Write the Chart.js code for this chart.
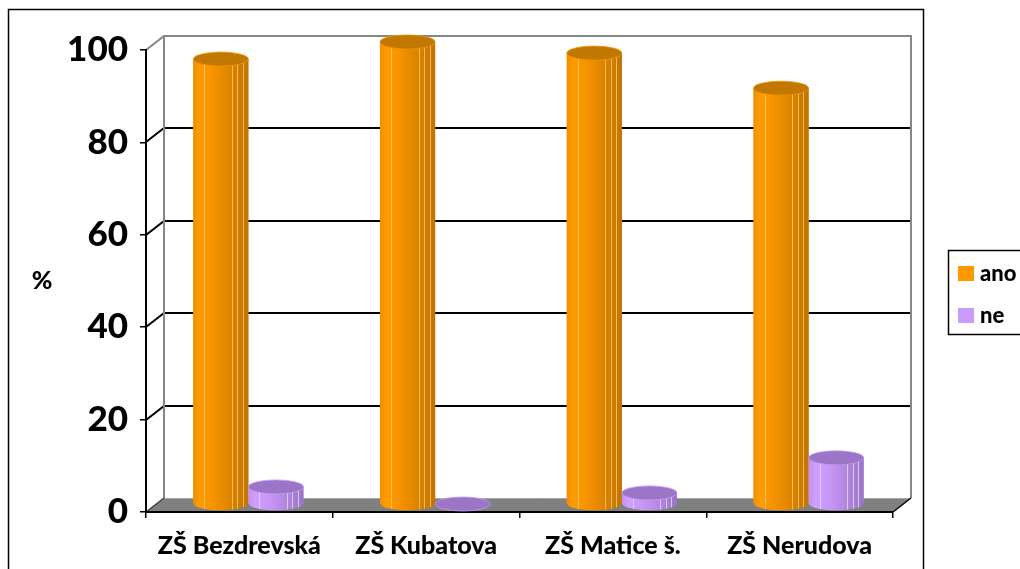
<!DOCTYPE html>
<html>
<head>
<meta charset="utf-8">
<script src="https://cdn.jsdelivr.net/npm/chart.js@4"></script>
<style>
  body { margin: 0; background: #fff; }
  canvas { display: block; }
</style>
</head>
<body>
<canvas id="chart" width="1020" height="569"></canvas>
<script>
// data
let categories = ["ZŠ Bezdrevská", "ZŠ Kubatova", "ZŠ Matice š.", "ZŠ Nerudova"];
let anoValues = [96.3, 100, 97.6, 90];
let neValues = [3.7, 0, 2.4, 10];
let seriesNames = ["ano", "ne"];
let yMin = 0, yMax = 100, yStep = 20;

// 3d look: back wall offset and bar depth offset
let wallDX = 18, wallDY = -14;
let barDX = 9, barDY = -8;
let capRy = 7;

let looks = {
  ano: {
    solid: "#ff9900",
    top: "#c07800",
    stops: [[0, "#f08e00"], [0.12, "#ff9c00"], [0.35, "#f69300"], [0.55, "#e68a00"], [0.72, "#d98200"], [0.88, "#cb7a00"], [1, "#c07300"]],
    hi: "rgba(255,200,110,0.8)"
  },
  ne: {
    solid: "#cc99ff",
    top: "#9b76c6",
    stops: [[0, "#c192f0"], [0.12, "#cf9fff"], [0.35, "#c898f8"], [0.55, "#bc8eea"], [0.72, "#b085dc"], [0.88, "#a47bcf"], [1, "#9b74c4"]],
    hi: "rgba(235,215,255,0.8)"
  }
};

function drawCylinder(ctx, el, look) {
  let x = el.x, y = el.y, base = el.base, w = el.width;
  let l = x - w / 2, r = x + w / 2, rx = w / 2;
  let grad = ctx.createLinearGradient(l, 0, r, 0);
  look.stops.forEach(s => grad.addColorStop(s[0], s[1]));

  if (base - y > 0.5) {
    ctx.fillStyle = grad;
    ctx.beginPath();
    ctx.moveTo(l, y);
    ctx.lineTo(l, base);
    ctx.ellipse(x, base, rx, capRy, 0, Math.PI, 0, true);
    ctx.lineTo(r, y);
    ctx.closePath();
    ctx.fill();

    // thin light facet lines
    ctx.strokeStyle = look.hi;
    ctx.lineWidth = 1;
    [0.2, 0.7, 0.8, 0.9].forEach(f => {
      let fx = Math.round(l + w * f) + 0.5;
      ctx.beginPath();
      ctx.moveTo(fx, y);
      ctx.lineTo(fx, base + capRy * Math.sqrt(1 - Math.pow((fx - x) / rx, 2)));
      ctx.stroke();
    });
  }

  ctx.fillStyle = look.top;
  ctx.beginPath();
  ctx.ellipse(x, y, rx, capRy, 0, 0, Math.PI * 2);
  ctx.fill();
  ctx.strokeStyle = look.stops[2][1];
  ctx.lineWidth = 0.8;
  ctx.stroke();
}

let wallsPlugin = {
  id: "walls",
  beforeDraw(chart) {
    let ctx = chart.ctx;
    let area = chart.chartArea;
    let ys = chart.scales.y;
    let bottom = ys.getPixelForValue(yMin);
    let top = ys.getPixelForValue(yMax);
    ctx.save();

    // floor
    ctx.fillStyle = "#808080";
    ctx.beginPath();
    ctx.moveTo(area.left, bottom);
    ctx.lineTo(area.right, bottom);
    ctx.lineTo(area.right + wallDX, bottom + wallDY);
    ctx.lineTo(area.left + wallDX, bottom + wallDY);
    ctx.closePath();
    ctx.fill();
    ctx.strokeStyle = "#a6a6a6";
    ctx.lineWidth = 1;
    ctx.beginPath();
    ctx.moveTo(area.left + wallDX, bottom + wallDY + 0.5);
    ctx.lineTo(area.right + wallDX, bottom + wallDY + 0.5);
    ctx.stroke();

    // gridlines on side and back wall
    ctx.strokeStyle = "#000";
    ctx.lineWidth = 2;
    for (let v = yMin + yStep; v < yMax; v += yStep) {
      let py = Math.round(ys.getPixelForValue(v));
      ctx.beginPath();
      ctx.moveTo(area.left, py);
      ctx.lineTo(area.left + wallDX, py + wallDY);
      ctx.lineTo(area.right + wallDX, py + wallDY);
      ctx.stroke();
    }

    // back wall frame
    ctx.strokeStyle = "#868686";
    ctx.lineWidth = 2;
    ctx.beginPath();
    ctx.moveTo(area.left, top);
    ctx.lineTo(area.left + wallDX, top + wallDY);
    ctx.lineTo(area.right + wallDX, top + wallDY);
    ctx.lineTo(area.right + wallDX, bottom + wallDY);
    ctx.moveTo(area.left + wallDX, top + wallDY);
    ctx.lineTo(area.left + wallDX, bottom + wallDY);
    ctx.stroke();

    // floor side edges
    ctx.strokeStyle = "#000";
    ctx.lineWidth = 1.5;
    ctx.beginPath();
    ctx.moveTo(area.right, bottom);
    ctx.lineTo(area.right + wallDX, bottom + wallDY);
    ctx.stroke();
    ctx.strokeStyle = "#404040";
    ctx.beginPath();
    ctx.moveTo(area.left, bottom);
    ctx.lineTo(area.left + wallDX, bottom + wallDY);
    ctx.stroke();

    ctx.restore();
  },
  beforeDatasetsDraw(chart) {
    chart.ctx.save();
    chart.ctx.translate(barDX, barDY);
  },
  afterDatasetsDraw(chart) {
    let ctx = chart.ctx;
    chart.data.datasets.forEach((ds, i) => {
      let meta = chart.getDatasetMeta(i);
      let look = looks[ds.label];
      meta.data.forEach(el => {
        let p = el.getProps(["x", "y", "base", "width"], true);
        drawCylinder(ctx, p, look);
      });
    });
    ctx.restore();
  },
  afterDraw(chart) {
    let ctx = chart.ctx;
    ctx.save();
    // outer frame
    ctx.strokeStyle = "#000";
    ctx.lineWidth = 1.5;
    ctx.strokeRect(8.5, 9.5, 915, 600);

    // axis title
    ctx.fillStyle = "#000";
    ctx.font = "900 25px Lato";
    ctx.textAlign = "center";
    ctx.textBaseline = "middle";
    ctx.fillText("%", 42, 281);

    // legend
    ctx.strokeRect(948.5, 250.5, 90, 84);
    ctx.textAlign = "left";
    ctx.font = "900 22px Lato";
    chart.data.datasets.forEach((ds, i) => {
      let cy = 274 + i * 42;
      ctx.fillStyle = ds.backgroundColor;
      ctx.fillRect(958, cy - 8, 16, 15);
      ctx.fillStyle = "#000";
      ctx.fillText(ds.label, 980, cy);
    });
    ctx.restore();
  }
};

new Chart(document.getElementById("chart"), {
  type: "bar",
  data: {
    labels: categories,
    datasets: [
      { label: seriesNames[0], data: anoValues, backgroundColor: looks.ano.solid },
      { label: seriesNames[1], data: neValues, backgroundColor: looks.ne.solid }
    ]
  },
  options: {
    responsive: false,
    animation: false,
    layout: { padding: { left: 0, top: 50, right: 127, bottom: 0 }, autoPadding: false },
    categoryPercentage: 0.59,
    barPercentage: 1,
    plugins: {
      legend: { display: false },
      tooltip: { enabled: false }
    },
    scales: {
      x: {
        afterFit(scale) { scale.height = 57; },
        grid: { drawOnChartArea: false, tickLength: 6, color: "#000", lineWidth: 1.5 },
        border: { display: true, color: "#000", width: 2 },
        ticks: { color: "#000", padding: 13, font: { family: "Lato", size: 25, weight: "900" } }
      },
      y: {
        min: yMin,
        max: yMax,
        afterFit(scale) { scale.width = 146; },
        grid: { drawOnChartArea: false, tickLength: 6, color: "#000", lineWidth: 1.5 },
        border: { display: true, color: "#000", width: 2 },
        ticks: { stepSize: yStep, color: "#000", padding: 12, font: { family: "Lato", size: 35, weight: "900" } }
      }
    }
  },
  plugins: [wallsPlugin]
});
</script>
</body>
</html>
